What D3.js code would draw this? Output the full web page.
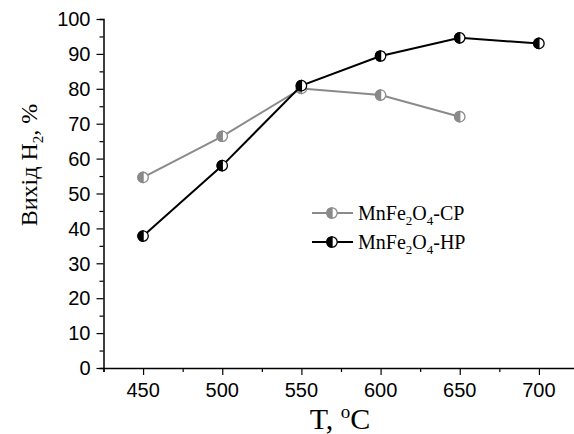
<!DOCTYPE html>
<html>
<head>
<meta charset="utf-8">
<script src="https://cdn.jsdelivr.net/npm/d3@7"></script>
<style>
  html, body { margin: 0; padding: 0; background: #fff; }
  svg { display: block; }
</style>
</head>
<body>
<svg id="chart" width="574" height="434"></svg>
<script>
// Temperature points, °C
const temps = [450, 500, 550, 600, 650, 700];
// Hydrogen yield, %
const yieldCP = [54.6, 66.4, 80.1, 78.2, 72.0];
const yieldHP = [37.8, 58.0, 80.9, 89.4, 94.6, 93.0];
const xTicks = [450, 500, 550, 600, 650, 700];
const yTicks = [0, 10, 20, 30, 40, 50, 60, 70, 80, 90, 100];
const seriesNames = ["CP", "HP"];
const seriesColors = ["#8a8a8a", "#000000"];

const svg = d3.select("#chart");
const sansFont = "Liberation Sans, Arial, sans-serif";
const serifFont = "Liberation Serif, Times New Roman, serif";

const x = d3.scaleLinear().domain([425, 725]).range([103.5, 578.5]);
const y = d3.scaleLinear().domain([0, 100]).range([368, 19]);

// X axis with minor ticks every 25 °C
const xAxis = svg.append("g").attr("transform", `translate(0,${y(0)})`);
xAxis.call(d3.axisBottom(x).tickValues(d3.range(425, 726, 25)).tickSize(4).tickFormat(""));
xAxis.call(g => g.selectAll(".tick line").filter(d => xTicks.includes(d)).attr("y2", 7));
const xLab = svg.append("g").attr("transform", `translate(0,${y(0)})`);
xTicks.forEach(t => {
  xLab.append("text").attr("x", x(t)).attr("y", 29).attr("text-anchor", "middle")
    .attr("fill", "#000").attr("font-family", sansFont).attr("font-size", 20).text(t);
});

// Y axis with minor ticks every 5 %
const yAxis = svg.append("g").attr("transform", `translate(${x(425)},0)`);
yAxis.call(d3.axisLeft(y).tickValues(d3.range(0, 101, 5)).tickSize(4).tickFormat(""));
yAxis.call(g => g.selectAll(".tick line").filter(d => d % 10 === 0).attr("x2", -7));
const yLab = svg.append("g").attr("transform", `translate(${x(425)},0)`);
yTicks.forEach(t => {
  yLab.append("text").attr("x", -13).attr("y", y(t)).attr("dy", "0.36em").attr("text-anchor", "end")
    .attr("fill", "#000").attr("font-family", sansFont).attr("font-size", 20).text(t);
});

svg.selectAll(".domain").attr("stroke", "#000").attr("stroke-width", 1.5);
svg.selectAll(".tick line").attr("stroke", "#000").attr("stroke-width", 1.2);

// Axis titles
svg.append("text").attr("x", 340).attr("y", 429).attr("text-anchor", "middle")
  .attr("font-family", serifFont).attr("font-size", 30)
  .html('T, <tspan dy="-11" font-size="19">o</tspan><tspan dy="11">C</tspan>');

svg.append("text").attr("transform", "translate(37,165) rotate(-90)").attr("text-anchor", "middle")
  .attr("font-family", serifFont).attr("font-size", 24)
  .html('Вихід H<tspan dy="6" font-size="15">2</tspan><tspan dy="-6">, %</tspan>');

// Half-filled circle marker: left half in series colour, right half white
function marker(g, cx, cy, color) {
  const r = 5.2;
  g.append("circle").attr("cx", cx).attr("cy", cy).attr("r", r).attr("fill", "#fff")
    .attr("stroke", color).attr("stroke-width", 1.3);
  g.append("path")
    .attr("d", `M${cx},${cy - r} A${r},${r} 0 0 0 ${cx},${cy + r} Z`)
    .attr("fill", color).attr("stroke", color).attr("stroke-width", 1.3);
}

const line = d3.line().x(d => x(d[0])).y(d => y(d[1]));
const data = [yieldCP, yieldHP].map(vals => vals.map((v, i) => [temps[i], v]));

data.forEach((pts, si) => {
  const g = svg.append("g");
  g.append("path").datum(pts).attr("d", line).attr("fill", "none")
    .attr("stroke", seriesColors[si]).attr("stroke-width", 2);
  pts.forEach(p => marker(g, x(p[0]), y(p[1]), seriesColors[si]));
});

// Legend
const legRows = [213, 242];
seriesNames.forEach((name, i) => {
  const g = svg.append("g");
  const yy = legRows[i];
  g.append("line").attr("x1", 312).attr("x2", 353).attr("y1", yy).attr("y2", yy)
    .attr("stroke", seriesColors[i]).attr("stroke-width", 2);
  marker(g, 332, yy, seriesColors[i]);
  g.append("text").attr("x", 358).attr("y", yy + 7)
    .attr("font-family", serifFont).attr("font-size", 20)
    .html(`MnFe<tspan dy="5" font-size="13">2</tspan><tspan dy="-5">O</tspan><tspan dy="5" font-size="13">4</tspan><tspan dy="-5">-${name}</tspan>`);
});
</script>
</body>
</html>
